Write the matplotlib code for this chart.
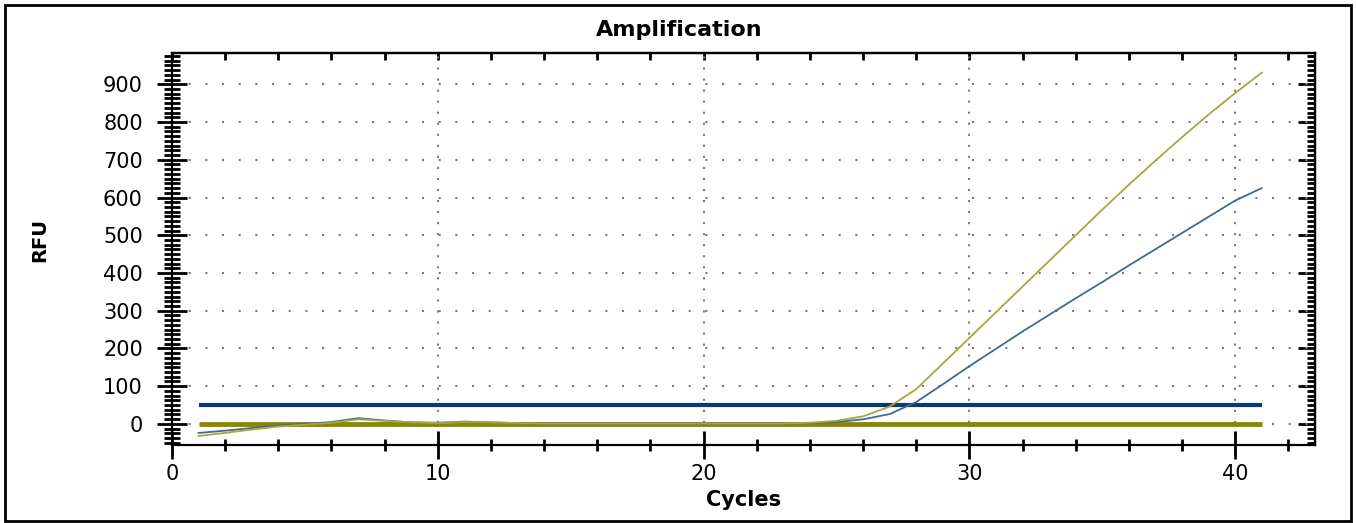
import matplotlib
matplotlib.use("Agg")
import matplotlib.pyplot as plt
from matplotlib.ticker import MultipleLocator, NullFormatter
from matplotlib.patches import Rectangle

# ---- data ----
cycles = list(range(1, 42))
sample_a = [-32, -24, -15, -7, -2, 3, 12, 8, 4, 2, 5, 4,
            2, 1, 1, 1, 1, 1, 1, 1, 1, 1, 1,
            3, 8, 20, 46, 92, 160, 228, 296, 364, 432, 500, 568, 634, 698, 760, 820, 877, 931]
sample_b = [-24, -18, -11, -4, 0, 5, 15, 9, 4, 3, 6, 4,
            2, 1, 1, 1, 1, 1, 1, 1, 1, 1, 1,
            2, 5, 12, 26, 58, 105, 153, 199, 245, 289, 333, 376, 420, 463, 506, 549, 592, 625]
threshold = 50
baseline = 0
x_start, x_end = 1, 41
y_ticks = [0, 100, 200, 300, 400, 500, 600, 700, 800, 900]
x_ticks = [0, 10, 20, 30, 40]

W, H = 1356, 523
fig = plt.figure(figsize=(W / 100, H / 100), dpi=100)
ax = fig.add_axes([172 / W, 1 - 445 / H, (1315 - 172) / W, (445 - 53) / H])

ax.set_xlim(0, 43)
ax.set_ylim(-56, 983)

# grid
for yv in y_ticks:
    ax.axhline(yv, color="#7a7a7a", lw=1.5, ls=(0, (1, 7)), zorder=1)
for xv in x_ticks[1:]:
    ax.axvline(xv, color="#7a7a7a", lw=1.5, ls=(0, (1, 4.3)), zorder=1)

# threshold & baseline
ax.hlines(threshold, x_start, x_end, color="#0b3a73", lw=3, zorder=2)
ax.hlines(baseline, x_start, x_end, color="#8a8800", lw=3.5, zorder=2)

# curves
ax.plot(cycles, sample_b, color="#3d6b96", lw=1.3, zorder=3)
ax.plot(cycles, sample_a, color="#a8a83a", lw=1.3, zorder=3)

# ticks
ax.set_yticks(y_ticks)
ax.set_xticks(x_ticks)
ax.yaxis.set_minor_locator(MultipleLocator(12.5))
ax.xaxis.set_minor_locator(MultipleLocator(2))
ax.tick_params(axis="y", which="major", direction="inout", length=22, width=2,
               labelsize=15, pad=10, right=False)
ax.tick_params(axis="y", which="minor", direction="inout", length=12, width=2, right=False)
ax.tick_params(axis="x", which="major", direction="inout", length=20, width=2,
               labelsize=15, pad=4, top=False)
ax.tick_params(axis="x", which="minor", direction="inout", length=8, width=2, top=False)

for s in ax.spines.values():
    s.set_linewidth(1.6)

top = ax.secondary_xaxis("top")
top.set_xticks(x_ticks)
top.xaxis.set_minor_locator(MultipleLocator(2))
top.xaxis.set_major_formatter(NullFormatter())
top.tick_params(axis="x", which="both", direction="in", length=5, width=2)
top.spines["top"].set_linewidth(1.6)

right = ax.secondary_yaxis("right")
right.set_yticks(y_ticks)
right.yaxis.set_minor_locator(MultipleLocator(12.5))
right.yaxis.set_major_formatter(NullFormatter())
right.tick_params(axis="y", which="major", direction="in", length=12, width=2)
right.tick_params(axis="y", which="minor", direction="in", length=6, width=2)
right.spines["right"].set_linewidth(1.6)

ax.set_xlabel("Cycles", fontsize=15, fontweight="bold", labelpad=4)
fig.text(40 / W, 1 - 240 / H, "RFU", rotation=90, fontsize=14, fontweight="bold",
         ha="center", va="center")
fig.text(679 / W, 1 - 30 / H, "Amplification", fontsize=16, fontweight="bold",
         ha="center", va="center")

fig.patches.append(Rectangle((5 / W, 2 / H), (1351 - 5) / W, (518 - 2) / H,
                             transform=fig.transFigure, fill=False,
                             edgecolor="black", lw=2))

fig.savefig("out.png", dpi=100)
